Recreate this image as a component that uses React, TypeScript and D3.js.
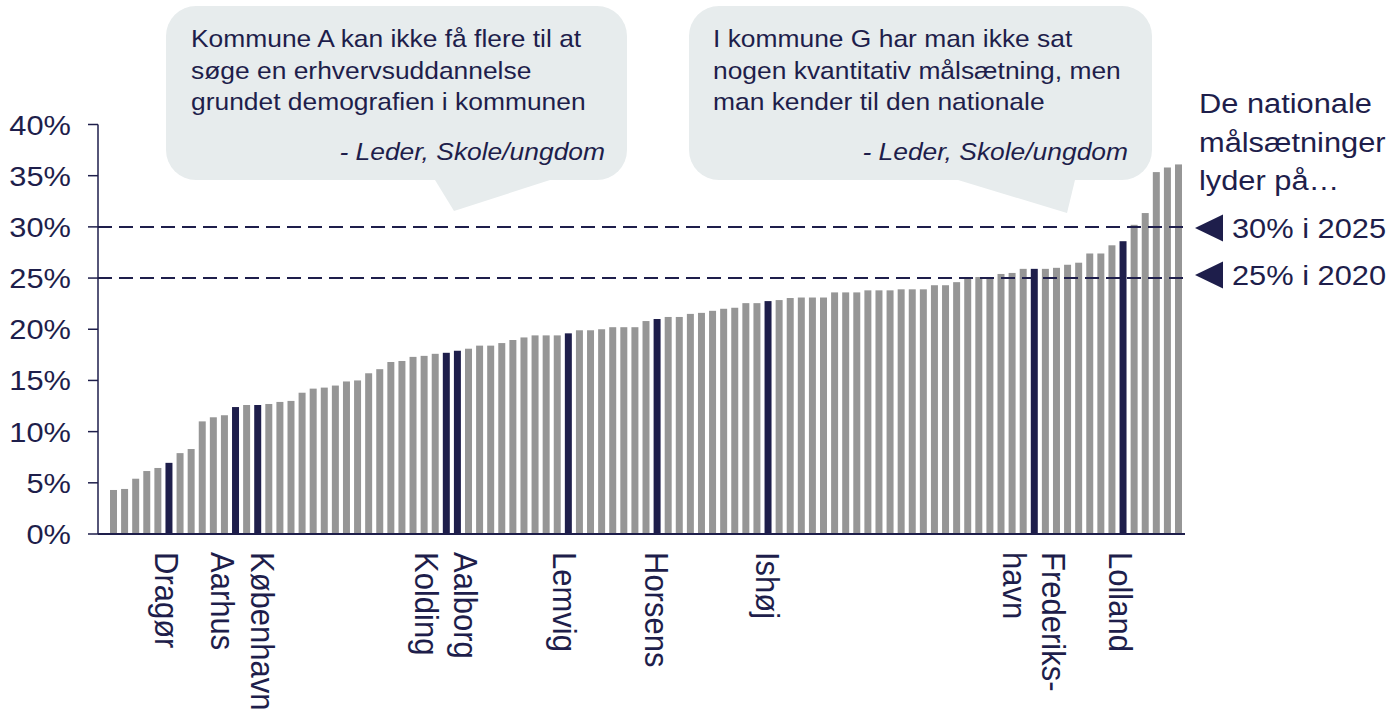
import React from "react";
import * as d3 from "d3";

// share of youth choosing vocational education, one bar per kommune (sorted)
const values = [
  4.3, 4.4, 5.4, 6.15, 6.45, 6.95, 7.9, 8.3, 11.0, 11.4, 11.6, 12.4, 12.6, 12.6,
  12.7, 12.9, 13.0, 13.8, 14.2, 14.3, 14.5, 14.9, 15.0, 15.7, 16.1, 16.8, 16.9,
  17.3, 17.4, 17.6, 17.7, 17.9, 18.1, 18.4, 18.4, 18.65, 18.95, 19.2, 19.4, 19.4,
  19.4, 19.6, 19.9, 19.9, 20.0, 20.2, 20.2, 20.2, 20.8, 21.0, 21.2, 21.2, 21.5,
  21.6, 21.8, 22.0, 22.1, 22.55, 22.55, 22.75, 22.85, 23.05, 23.1, 23.1, 23.1,
  23.6, 23.6, 23.6, 23.8, 23.8, 23.8, 23.9, 23.9, 23.9, 24.3, 24.3, 24.6, 25.1,
  25.1, 25.1, 25.4, 25.5, 25.9, 25.9, 25.9, 26.0, 26.3, 26.5, 27.4, 27.4, 28.2,
  28.6, 30.2, 31.35, 35.35, 35.8, 36.1,
];
const labelIndex = [5, 11, 13, 30, 31, 41, 49, 59, 83, 91];
const labelNames = [
  "Dragør", "Aarhus", "København", "Kolding", "Aalborg",
  "Lemvig", "Horsens", "Ishøj", "Frederiks-\nhavn", "Lolland",
];
const yTicks = [0, 5, 10, 15, 20, 25, 30, 35, 40];
const targets = [30, 25];
const targetLabels = ["30% i 2025", "25% i 2020"];
const noteLines = ["De nationale", "målsætninger", "lyder på…"];
const quoteLines = [
  ["Kommune A kan ikke få flere til at", "søge en erhvervsuddannelse", "grundet demografien i kommunen"],
  ["I kommune G har man ikke sat", "nogen kvantitativ målsætning, men", "man kender til den nationale"],
];
const quoteSource = "- Leder, Skole/ungdom";

const width = 1398;
const height = 714;
const navy = "#1e1e4b";
const grey = "#969696";
const bubble = "#e7eced";
const font = "'Liberation Sans', Arial, sans-serif";
const SX = 1.1; // text in the original is slightly stretched sideways

// small hand nudges so neighbouring labels don't collide
const labelNudge: Record<string, number> = {
  "Dragør": -2, Aarhus: -13, "København": 5, Kolding: -19, Aalborg: 9,
  Lemvig: -3, Lolland: -2,
};
const targetNudge = [1, -3];

const callouts = [
  { x: 166, y: 6, w: 461, h: 174, tail: [[435, 180], [550, 180], [454, 211]], tx: 191, sx: 605 },
  { x: 689, y: 6, w: 463, h: 174, tail: [[958, 180], [1075, 180], [1067, 213]], tx: 713, sx: 1128 },
];

const T = ({ x, y, size, anchor = "start", italic = false, rotate = 0, dy, children }: any) => (
  <text
    transform={`translate(${x},${y}) scale(${SX},1)${rotate ? ` rotate(${rotate})` : ""}`}
    fontSize={size}
    textAnchor={anchor}
    fontStyle={italic ? "italic" : "normal"}
    fontFamily={font}
    fill={navy}
    dy={dy}
  >
    {children}
  </text>
);

export default function App() {
  const axisX = 98;
  const axisRight = 1185;

  const x = d3
    .scaleBand<number>()
    .domain(values.map((_, i) => i))
    .range([110, 1182])
    .paddingInner(0.37)
    .paddingOuter(0);

  const y = d3.scaleLinear().domain([0, 40]).range([534, 124.5]);

  const highlighted = new Set(labelIndex);

  return (
    <svg
      width={width}
      height={height}
      style={{ position: "absolute", left: 0, top: 0, background: "#fff" }}
    >
      {/* speech bubbles */}
      {callouts.map((c, k) => (
        <g key={k}>
          <rect x={c.x} y={c.y} width={c.w} height={c.h} rx={30} fill={bubble} />
          <polygon points={c.tail.map((p) => p.join(",")).join(" ")} fill={bubble} />
          {quoteLines[k].map((line, i) => (
            <T key={i} x={c.tx} y={47 + i * 31.5} size={24}>
              {line}
            </T>
          ))}
          <T x={c.sx} y={160} size={24} anchor="end" italic>
            {quoteSource}
          </T>
        </g>
      ))}

      {/* bars */}
      {values.map((v, i) => (
        <rect
          key={i}
          x={x(i)}
          y={y(v)}
          width={x.bandwidth()}
          height={y(0) - y(v)}
          fill={highlighted.has(i) ? navy : grey}
        />
      ))}

      {/* target lines */}
      {targets.map((t) => (
        <line
          key={t}
          x1={axisX}
          x2={axisRight}
          y1={y(t)}
          y2={y(t)}
          stroke={navy}
          strokeWidth={2}
          strokeDasharray="14 7"
        />
      ))}

      {/* y axis */}
      <line x1={axisX} x2={axisX} y1={y(40)} y2={y(0)} stroke={navy} strokeWidth={1.5} />
      <line x1={axisX} x2={axisRight} y1={y(0)} y2={y(0)} stroke={navy} strokeWidth={2} />
      {yTicks.map((t) => (
        <g key={t}>
          <line x1={axisX - 10} x2={axisX} y1={y(t)} y2={y(t)} stroke={navy} strokeWidth={1.5} />
          <T x={71} y={y(t) + 10} size={28} anchor="end">
            {`${t}%`}
          </T>
        </g>
      ))}

      {/* kommune labels */}
      {labelIndex.map((idx, k) => {
        const name = labelNames[k];
        const lines = name.split("\n");
        const cx = (x(idx) as number) + x.bandwidth() / 2 + (labelNudge[name] || 0);
        return (
          <g key={name}>
            {lines.map((line, i) => {
              const off = (i - (lines.length - 1) / 2) * 36;
              return (
                <T key={i} x={cx - off * SX} y={552} size={31} rotate={90} dy="0.35em">
                  {line}
                </T>
              );
            })}
          </g>
        );
      })}

      {/* national targets note */}
      {noteLines.map((line, i) => (
        <T key={i} x={1199} y={113 + i * 38.5} size={28}>
          {line}
        </T>
      ))}
      {targets.map((t, i) => {
        const cy = y(t) + targetNudge[i];
        return (
          <g key={t}>
            <polygon
              points={`1195,${cy} 1223,${cy - 13.5} 1223,${cy + 13.5}`}
              fill={navy}
            />
            <T x={1232} y={cy + 10} size={28}>
              {targetLabels[i]}
            </T>
          </g>
        );
      })}
    </svg>
  );
}
